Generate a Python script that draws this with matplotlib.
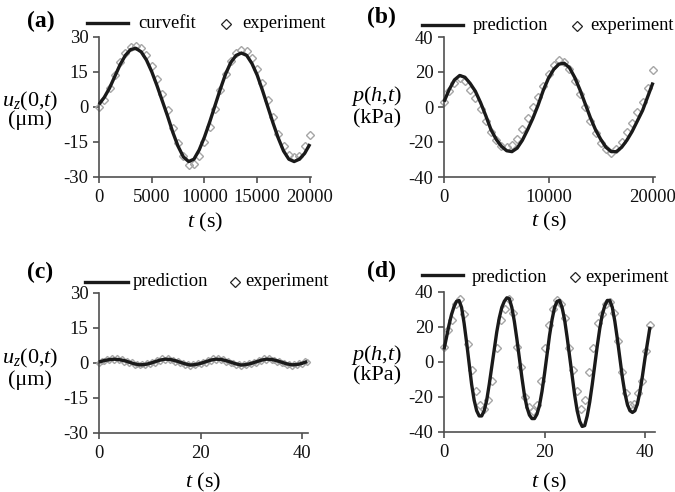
import numpy as np
import matplotlib
matplotlib.use("Agg")
import matplotlib.pyplot as plt
from matplotlib.lines import Line2D

plt.rcParams['font.family'] = ['Liberation Serif', 'DejaVu Serif']
plt.rcParams['mathtext.fontset'] = 'custom'
plt.rcParams['mathtext.rm'] = 'Liberation Serif'
plt.rcParams['mathtext.it'] = 'Liberation Serif:italic'
plt.rcParams['mathtext.bf'] = 'Liberation Serif:bold'

# ---------------- data ----------------
# (a) surface displacement, curvefit vs experiment (t in s, u in um)
a_fit = [1, 4, 8, 13, 18, 22, 24.5, 25, 23.5, 20, 15, 9, 2.5, -4, -11, -17, -21.5, -23.5,
         -22.5, -18.5, -13, -6.5, 0.5, 7.5, 14, 19, 22, 23, 22, 18.5, 13.5, 7, 0, -7, -13.5,
         -19, -22.5, -23.5, -22.5, -20, -16]
a_exp = [0, 3, 8, 13.5, 19, 23, 25.5, 26, 25, 22, 17.5, 12, 5.5, -1.5, -9, -15.5, -21, -25,
         -24.5, -21, -15, -8.5, -1, 7, 14, 19.5, 23, 24.5, 24, 21, 16, 10, 3, -4.5, -11.5,
         -17, -20.5, -21.5, -21, -17, -12]
a_t_end = 20000

# (b) pore pressure, prediction vs experiment (kPa)
b_pred = [3, 10, 15.5, 18, 17, 13.5, 9, 2.5, -5, -13, -18.5, -22.5, -25, -25.5, -23.5, -19,
          -13, -6.5, 1, 9.5, 16.5, 21.5, 24.5, 25, 22.5, 17, 10, 2, -6, -13, -18.5, -23,
          -25.5, -25.5, -23, -19, -14, -8, -2, 6, 14]
b_exp = [3, 9, 14, 16.5, 15, 10, 5, -1, -8, -14, -19, -22, -23, -21.5, -18, -12.5, -6.5, 0,
         6, 12, 19, 24, 27, 26, 21.5, 15, 7.5, 0, -8, -15, -20.5, -24, -26, -24, -20, -14.5,
         -9, -3, 3, 11, 21]
b_t_end = 20000

# (c) surface displacement at 0.1 Hz (um)
c_pred = [0.3, 0.9, 1.3, 1.5, 1.3, 0.9, 0.2, -0.5, -0.9, -0.8, -0.3, 0.4, 1.1, 1.5, 1.4,
          0.9, 0.2, -0.5, -1.0, -0.8, -0.3, 0.4, 1.1, 1.5, 1.4, 0.9, 0.2, -0.5, -1.0, -0.8,
          -0.3, 0.4, 1.1, 1.5, 1.4, 0.9, 0.2, -0.5, -0.9, -0.8, -0.3, 0.5]
c_exp = [0.0, 0.8, 0.6, 1.4, 1.0, 1.9, 1.2, 1.8, 1.0, 1.4, 0.5, 0.8, -0.2, 0.1, -0.9, -0.4,
         -1.2, -0.6, -1.1, -0.3, -0.6, 0.4, 0.0, 1.0, 0.7, 1.8, 1.2, 1.9, 1.0, 1.3, 0.5, 0.7,
         -0.2, 0.0, -0.9, -0.5, -1.4, -0.7, -1.2, -0.2, -0.7, 0.5, 0.0, 1.1, 0.8, 1.9, 1.2,
         1.8, 1.0, 1.4, 0.4, 0.8, -0.3, 0.0, -1.0, -0.5, -1.4, -0.6, -1.2, -0.2, -0.7, 0.5,
         0.0, 1.1, 0.8, 1.9, 1.2, 1.8, 1.0, 1.3, 0.4, 0.7, -0.3, -0.1, -1.0, -0.5, -1.3, -0.5,
         -1.1, -0.1, -0.5, 0.6, 0.3]
c_t_end = 41

# (d) pore pressure at 0.1 Hz (kPa)
d_pred = [7, 14, 21, 27, 31.5, 34.5, 35, 31, 22, 11, -1, -13, -22, -28, -31, -31, -28, -22,
          -13, -3, 7, 17, 25, 31, 34.5, 36.5, 36, 31, 23, 13, 2, -9, -19, -26, -30.5, -32.5,
          -32.5, -30, -25, -17, -7, 4, 15, 24, 31, 34.5, 35, 31, 24, 14, 3, -8, -19, -28, -34,
          -37, -36.5, -31, -23, -13, -2, 9, 19, 27, 32, 35, 35, 31, 23, 13, 2, -9, -18, -24.5,
          -28, -29, -28, -24, -17, -8, 2, 11, 20]
d_exp = [8.5, 18, 24, 33, 36, 27, 10, -5, -17, -25, -27, -22, -11, 8, 24, 30, 36, 28, 8.5,
         -3, -20, -26, -28, -25, -11, 8, 21, 30, 35, 33, 25, 8, -5, -17, -27, -22, -6, 8, 22,
         27, 33, 34, 28, 12, -6, -18, -25, -24, -18, -11, 6, 21]
d_t_end = 41

panels = [
    dict(tag='(a)', fit=a_fit, exp=a_exp, tend=a_t_end, line_lbl='curvefit',
         ylab=[r'$u_z$(0,$t$)', '(\u03bcm)'], yticks=[-30, -15, 0, 15, 30],
         xticks=[0, 5000, 10000, 15000, 20000]),
    dict(tag='(b)', fit=b_pred, exp=b_exp, tend=b_t_end, line_lbl='prediction',
         ylab=[r'$p$($h$,$t$)', '(kPa)'], yticks=[-40, -20, 0, 20, 40],
         xticks=[0, 10000, 20000]),
    dict(tag='(c)', fit=c_pred, exp=c_exp, tend=c_t_end, line_lbl='prediction',
         ylab=[r'$u_z$(0,$t$)', '(\u03bcm)'], yticks=[-30, -15, 0, 15, 30],
         xticks=[0, 20, 40]),
    dict(tag='(d)', fit=d_pred, exp=d_exp, tend=d_t_end, line_lbl='prediction',
         ylab=[r'$p$($h$,$t$)', '(kPa)'], yticks=[-40, -20, 0, 20, 40],
         xticks=[0, 20, 40]),
]

# ---------------- layout (pixel based) ----------------
W, H = 675, 492
fig = plt.figure(figsize=(W / 100, H / 100), dpi=100)

def fx(px):
    return px / W

def fy(py):
    return 1 - py / H

# left px, right px, top px (ymax), bottom px (ymin), xmax
geo = [
    (99, 311, 36.7, 176.7, 20100),
    (444, 655, 37.0, 177.0, 20190),
    (99, 308, 292.7, 432.7, 41.18),
    (444, 655, 291.7, 431.7, 41.99),
]
# text anchors (px)
tag_pos = [(27, 27), (367, 23), (27, 278), (367, 277)]
leg_line = [(87, 128, 23), (422, 463, 25), (85, 128, 282), (422, 463, 275)]
leg_text = [(138, 28.5), (473, 29.5), (133, 285.5), (472, 281.5)]
leg_dia = [(226, 24), (577, 26), (235, 282), (575, 276.5)]
exp_text = [(242, 28.5), (590, 29.5), (245, 285.5), (585, 281.5)]
ylab_pos = [(30, 106, 125.5), (377, 101, 123), (30, 363.5, 384.5), (377, 360, 380)]
xlab_y = [227, 226, 487, 487]

spine_col = '#505050'
line_col = '#1a1a1a'
mark_col = '#a6a6a6'

for i, p in enumerate(panels):
    l, r, t, b, xmax = geo[i]
    ax = fig.add_axes([fx(l), fy(b), (r - l) / W, (b - t) / H])
    ymin, ymax = p['yticks'][0], p['yticks'][-1]
    ax.set_xlim(0, xmax)
    ax.set_ylim(ymin, ymax)
    tf = np.linspace(0, p['tend'], len(p['fit']))
    te = np.linspace(0, p['tend'], len(p['exp']))
    ms = 3.1 if i == 2 else 4.2
    ax.plot(te, p['exp'], linestyle='none', marker='D', ms=ms, mfc='none',
            mec=mark_col, mew=1.0, clip_on=False, zorder=2)
    ax.plot(tf, p['fit'], color=line_col, lw=2.4, solid_capstyle='butt',
            clip_on=False, zorder=3)
    for s in ['top', 'right']:
        ax.spines[s].set_visible(False)
    for s in ['left', 'bottom']:
        ax.spines[s].set_color(spine_col)
        ax.spines[s].set_linewidth(1.2)
    ax.set_xticks(p['xticks'])
    ax.set_yticks(p['yticks'])
    ax.set_xticklabels([str(v) for v in p['xticks']])
    ax.set_yticklabels([str(v) for v in p['yticks']])
    ax.tick_params(direction='out', length=4, width=1.2, color=spine_col,
                   labelsize=13.4, pad=3.5, labelcolor='#111111')
    ax.tick_params(axis='x', pad=5)
    ax.patch.set_visible(False)

    # panel tag
    fig.text(fx(tag_pos[i][0]), fy(tag_pos[i][1]), p['tag'], fontsize=17,
             fontweight='bold', ha='left', va='baseline')
    # legend (manual)
    x0, x1, yl = leg_line[i]
    fig.add_artist(Line2D([fx(x0), fx(x1)], [fy(yl), fy(yl)], color=line_col, lw=2.4,
                          transform=fig.transFigure))
    fig.text(fx(leg_text[i][0]), fy(leg_text[i][1]), p['line_lbl'], fontsize=13.3,
             ha='left', va='baseline')
    fig.add_artist(Line2D([fx(leg_dia[i][0])], [fy(leg_dia[i][1])], linestyle='none',
                          marker='D', ms=5.0, mfc='none', mec='#222222', mew=0.9,
                          transform=fig.transFigure))
    fig.text(fx(exp_text[i][0]), fy(exp_text[i][1]), 'experiment', fontsize=13.3,
             ha='left', va='baseline')
    # y label (two lines, horizontal)
    cx, y1, y2 = ylab_pos[i]
    fig.text(fx(cx), fy(y1), p['ylab'][0], fontsize=16, ha='center', va='baseline')
    fig.text(fx(cx), fy(y2), p['ylab'][1], fontsize=16, ha='center', va='baseline')
    # x label
    xc = l + (r - l) / 2
    fig.text(fx(xc), fy(xlab_y[i]), r'$t$ (s)', fontsize=16, ha='center', va='baseline')

fig.savefig('out.png', dpi=100)
